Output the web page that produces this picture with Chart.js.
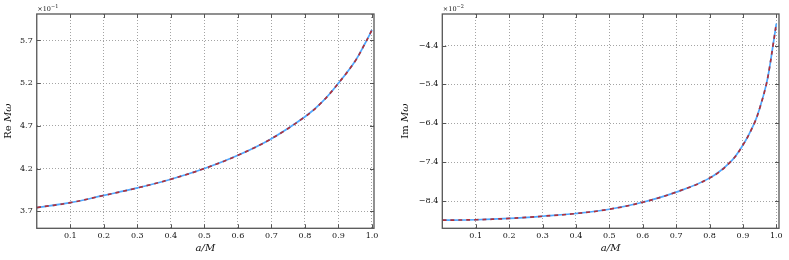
<!DOCTYPE html>
<html>
<head>
<meta charset="utf-8">
<script src="https://cdn.jsdelivr.net/npm/chart.js@4"></script>
<style>
  body { margin: 0; background: #fff; }
  .panel { position: absolute; top: 0; height: 260px; }
</style>
</head>
<body>
<div class="panel" style="left:0;width:390px"><canvas id="reChart"></canvas></div>
<div class="panel" style="left:400px;width:389px"><canvas id="imChart"></canvas></div>
<script>
// spin a/M (shared x ticks)
const xTicks = [0.1, 0.2, 0.3, 0.4, 0.5, 0.6, 0.7, 0.8, 0.9, 1.0];

// Re M omega
const reSpin = [0, 0.1, 0.2, 0.3, 0.4, 0.5, 0.6, 0.7, 0.8, 0.85, 0.9, 0.95, 0.98, 0.99, 1.0];
const reOmega = [0.3743, 0.3800, 0.3885, 0.3973, 0.4075, 0.4200, 0.4355, 0.4550, 0.4806, 0.4975, 0.5200, 0.5460, 0.5670, 0.5745, 0.5825];
const reTicks = [0.37, 0.42, 0.47, 0.52, 0.57];

// Im M omega
const imSpin = [0, 0.1, 0.2, 0.3, 0.4, 0.5, 0.6, 0.7, 0.8, 0.862, 0.9, 0.934, 0.95, 0.97, 0.98, 0.99, 1.0];
const imOmega = [-0.0889, -0.0888, -0.08846, -0.0879, -0.0872, -0.0861, -0.0843, -0.0817, -0.0781, -0.0740, -0.0696, -0.0640, -0.0602, -0.0540, -0.0495, -0.0440, -0.0384];
const imTicks = [-0.084, -0.074, -0.064, -0.054, -0.044];

const frameColor = "#555";
const gridColor = "#9a9a9a";

Chart.defaults.font.family = "'DejaVu Serif', serif";
Chart.defaults.font.size = 8;
Chart.defaults.color = "#111";

// frame, inward ticks, axis labels and the offset text
const decor = {
    id: "decor",
    afterDraw(chart, args, opts) {
        const { ctx, chartArea: a, scales: { x, y } } = chart;
        ctx.save();
        ctx.strokeStyle = frameColor;
        ctx.lineWidth = 1;
        ctx.beginPath();
        x.ticks.forEach(t => {
            const px = Math.round(x.getPixelForValue(t.value)) + 0.5;
            ctx.moveTo(px, a.bottom); ctx.lineTo(px, a.bottom - 4);
            ctx.moveTo(px, a.top); ctx.lineTo(px, a.top + 4);
        });
        y.ticks.forEach(t => {
            const py = Math.round(y.getPixelForValue(t.value)) + 0.5;
            ctx.moveTo(a.left, py); ctx.lineTo(a.left + 4, py);
            ctx.moveTo(a.right, py); ctx.lineTo(a.right - 4, py);
        });
        ctx.stroke();
        ctx.lineWidth = 1.3;
        ctx.strokeRect(a.left, a.top, a.right - a.left, a.bottom - a.top);

        ctx.fillStyle = "#111";
        ctx.textBaseline = "middle";
        // x label
        ctx.font = "italic 10px 'DejaVu Serif'";
        ctx.textAlign = "center";
        ctx.fillText("a/M", (a.left + a.right) / 2, 248);

        // y label, rotated
        ctx.save();
        ctx.translate(opts.yLabelX, (a.top + a.bottom) / 2);
        ctx.rotate(-Math.PI / 2);
        ctx.font = "10px 'DejaVu Serif'";
        const w1 = ctx.measureText(opts.yLabel[0]).width;
        ctx.font = "italic 10px 'DejaVu Serif'";
        const w2 = ctx.measureText(opts.yLabel[1]).width;
        ctx.textAlign = "left";
        ctx.font = "10px 'DejaVu Serif'";
        ctx.fillText(opts.yLabel[0], -(w1 + w2) / 2, 0);
        ctx.font = "italic 10px 'DejaVu Serif'";
        ctx.fillText(opts.yLabel[1], -(w1 + w2) / 2 + w1, 0);
        ctx.restore();

        // offset text, e.g. x10^-1
        ctx.textAlign = "left";
        ctx.textBaseline = "alphabetic";
        ctx.font = "6.5px 'DejaVu Serif'";
        ctx.fillText("\u00d710", a.left + 0.5, 11);
        const w = ctx.measureText("\u00d710").width;
        ctx.font = "5px 'DejaVu Serif'";
        ctx.fillText(opts.power, a.left + 0.5 + w, 8);
        ctx.restore();
    }
};

function makeChart(id, xs, ys, yMin, yMax, xMax, yTicks, scale, opts) {
    const points = xs.map((v, i) => ({ x: v, y: ys[i] }));
    return new Chart(document.getElementById(id), {
        type: "line",
        data: {
            datasets: [
                {
                    data: points,
                    borderColor: "#b0303a",
                    borderWidth: 1.7,
                    borderDash: [4, 4],
                    pointRadius: 0,
                    tension: 0.4,
                    order: 0,
                },
                {
                    data: points,
                    borderColor: "#4fa8ff",
                    borderWidth: 1.7,
                    pointRadius: 0,
                    tension: 0.4,
                    order: 1,
                },
            ],
        },
        options: {
            responsive: true,
            maintainAspectRatio: false,
            animation: false,
            layout: { padding: { top: 14, right: opts.padRight, left: 0, bottom: 0 } },
            plugins: {
                legend: { display: false },
                tooltip: { enabled: false },
                decor: opts,
            },
            scales: {
                x: {
                    type: "linear",
                    min: 0,
                    max: xMax,
                    afterBuildTicks: s => { s.ticks = xTicks.map(v => ({ value: v })); },
                    afterFit: s => { s.height = 31.7; },
                    ticks: { padding: 3, maxRotation: 0, callback: v => v.toFixed(1) },
                    grid: { color: gridColor, lineWidth: 0.9, drawTicks: false },
                    border: { display: false, dash: [1, 2] },
                },
                y: {
                    type: "linear",
                    min: yMin,
                    max: yMax,
                    afterBuildTicks: s => { s.ticks = yTicks.map(v => ({ value: v })); },
                    afterFit: s => { s.width = opts.axisWidth; },
                    ticks: {
                        padding: 4,
                        callback: v => (v * scale).toFixed(1).replace("-", "\u2212"),
                    },
                    grid: { color: gridColor, lineWidth: 0.9, drawTicks: false },
                    border: { display: false, dash: [1, 2] },
                },
            },
        },
        plugins: [decor],
    });
}

makeChart("reChart", reSpin, reOmega, 0.35, 0.601, 1.006, reTicks, 10,
    { yLabel: ["Re ", "M\u03c9"], yLabelX: 8.5, power: "\u22121", axisWidth: 36.75, padRight: 16 });
makeChart("imChart", imSpin, imOmega, -0.0910, -0.0359, 1.008, imTicks, 100,
    { yLabel: ["Im ", "M\u03c9"], yLabelX: 5.5, power: "\u22122", axisWidth: 42.3, padRight: 10 });
</script>
</body>
</html>
